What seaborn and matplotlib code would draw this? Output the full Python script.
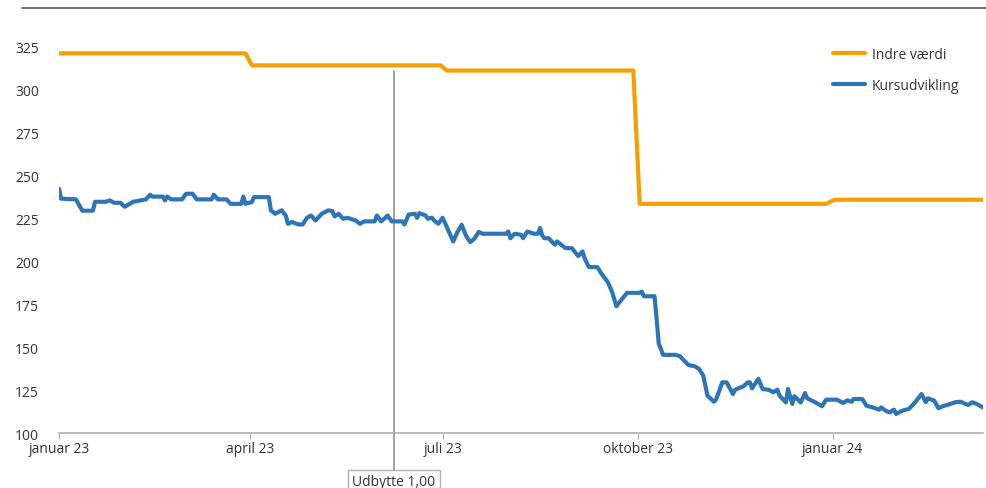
import numpy as np
import pandas as pd
import matplotlib
matplotlib.use("Agg")
import matplotlib.pyplot as plt
import matplotlib.transforms as mtransforms
from matplotlib.lines import Line2D
import seaborn as sns

# ------------------------------------------------------------
# data
# ------------------------------------------------------------
kurs_dates = [
    "2023-01-01", "2023-01-02", "2023-01-09", "2023-01-12", "2023-01-17", "2023-01-18",
    "2023-01-23", "2023-01-25", "2023-01-27", "2023-01-30", "2023-02-01", "2023-02-05",
    "2023-02-11", "2023-02-13", "2023-02-14", "2023-02-19", "2023-02-20", "2023-02-21",
    "2023-02-23", "2023-02-28", "2023-03-02", "2023-03-05", "2023-03-07", "2023-03-14",
    "2023-03-15", "2023-03-17", "2023-03-21", "2023-03-23", "2023-03-28", "2023-03-29",
    "2023-03-30", "2023-04-02", "2023-04-03", "2023-04-10", "2023-04-11", "2023-04-13",
    "2023-04-16", "2023-04-18", "2023-04-19", "2023-04-21", "2023-04-24", "2023-04-26",
    "2023-04-28", "2023-04-30", "2023-05-02", "2023-05-05", "2023-05-08", "2023-05-10",
    "2023-05-11", "2023-05-13", "2023-05-15", "2023-05-17", "2023-05-21", "2023-05-23",
    "2023-05-25", "2023-05-30", "2023-05-31", "2023-06-02", "2023-06-04", "2023-06-05",
    "2023-06-07", "2023-06-12", "2023-06-13", "2023-06-15", "2023-06-18", "2023-06-19",
    "2023-06-20", "2023-06-23", "2023-06-24", "2023-06-26", "2023-06-27", "2023-06-29",
    "2023-07-01", "2023-07-03", "2023-07-06", "2023-07-08", "2023-07-10", "2023-07-12",
    "2023-07-14", "2023-07-16", "2023-07-18", "2023-07-20", "2023-07-31", "2023-08-01",
    "2023-08-02", "2023-08-04", "2023-08-07", "2023-08-08", "2023-08-10", "2023-08-13",
    "2023-08-15", "2023-08-16", "2023-08-17", "2023-08-18", "2023-08-20", "2023-08-23",
    "2023-08-24", "2023-08-28", "2023-08-31", "2023-09-03", "2023-09-05", "2023-09-06",
    "2023-09-08", "2023-09-12", "2023-09-14", "2023-09-17", "2023-09-19", "2023-09-21",
    "2023-09-24", "2023-09-26", "2023-10-02", "2023-10-03", "2023-10-04", "2023-10-09",
    "2023-10-10", "2023-10-11", "2023-10-12", "2023-10-13", "2023-10-19", "2023-10-21",
    "2023-10-23", "2023-10-25", "2023-10-28", "2023-10-30", "2023-11-01", "2023-11-03",
    "2023-11-06", "2023-11-07", "2023-11-10", "2023-11-12", "2023-11-15", "2023-11-16",
    "2023-11-20", "2023-11-22", "2023-11-23", "2023-11-24", "2023-11-27", "2023-11-29",
    "2023-12-02", "2023-12-04", "2023-12-06", "2023-12-07", "2023-12-10", "2023-12-11",
    "2023-12-13", "2023-12-14", "2023-12-17", "2023-12-19", "2023-12-20", "2023-12-24",
    "2023-12-27", "2023-12-29", "2024-01-03", "2024-01-06", "2024-01-08", "2024-01-10",
    "2024-01-11", "2024-01-15", "2024-01-17", "2024-01-20", "2024-01-23", "2024-01-24",
    "2024-01-26", "2024-01-28", "2024-01-30", "2024-01-31", "2024-02-03", "2024-02-06",
    "2024-02-09", "2024-02-12", "2024-02-14", "2024-02-15", "2024-02-18", "2024-02-20",
    "2024-02-22", "2024-02-24", "2024-02-28", "2024-03-01", "2024-03-02", "2024-03-05",
    "2024-03-07", "2024-03-09", "2024-03-12",
]
kurs_values = [
    242.2, 236.4, 236.0, 229.4, 229.4, 234.6,
    234.6, 235.4, 234.0, 234.0, 231.7, 234.6,
    236.0, 238.7, 237.6, 237.6, 235.4, 237.6,
    236.0, 236.0, 239.3, 239.3, 236.0, 236.0,
    238.7, 236.0, 236.0, 233.4, 233.4, 237.6,
    233.4, 234.5, 237.3, 237.3, 229.6, 227.6,
    229.6, 226.6, 221.8, 222.8, 221.4, 221.4,
    225.3, 226.6, 223.7, 227.6, 229.6, 229.2,
    226.1, 227.6, 224.7, 225.3, 223.7, 221.8,
    223.2, 223.2, 226.6, 223.2, 225.3, 226.6,
    223.2, 223.2, 221.4, 227.2, 227.6, 225.3,
    228.0, 226.6, 224.7, 225.3, 223.7, 221.8,
    225.3, 219.9, 211.5, 217.0, 221.2, 215.0,
    211.1, 213.1, 217.0, 216.0, 216.0, 217.3,
    213.4, 216.0, 215.4, 213.4, 217.3, 216.0,
    216.0, 219.3, 215.0, 213.4, 213.4, 209.6,
    211.5, 207.6, 207.6, 203.0, 205.7, 201.8,
    196.6, 196.6, 192.7, 187.8, 182.0, 173.8,
    178.5, 181.6, 181.6, 182.3, 179.6, 179.6,
    166.4, 151.9, 149.0, 145.5, 145.5, 144.7,
    142.1, 139.6, 138.8, 137.3, 133.4, 121.7,
    118.2, 119.4, 129.5, 129.5, 122.7, 125.2,
    127.2, 129.5, 129.5, 126.0, 131.5, 125.6,
    125.1, 123.7, 125.2, 121.7, 117.8, 125.6,
    116.9, 121.4, 117.8, 123.3, 120.2, 117.8,
    115.6, 119.4, 119.4, 117.5, 119.0, 118.2,
    119.8, 119.8, 115.9, 114.9, 113.6, 114.9,
    113.0, 112.0, 113.6, 111.1, 113.0, 114.0,
    117.9, 122.7, 117.9, 120.2, 118.8, 114.4,
    115.6, 116.3, 117.9, 118.2, 117.9, 116.3,
    117.9, 116.9, 114.9,
]

indre_dates = [
    "2023-01-01", "2023-03-30", "2023-04-02", "2023-06-30", "2023-07-03",
    "2023-09-29", "2023-10-02", "2023-12-29", "2024-01-02", "2024-03-12",
]
indre_values = [321.0, 321.0, 314.0, 314.0, 311.0, 311.0, 233.4, 233.4, 235.8, 235.8]

y_ticks = [100, 125, 150, 175, 200, 225, 250, 275, 300, 325]
x_ticks = ["2023-01-01", "2023-04-01", "2023-07-01", "2023-10-01", "2024-01-01"]
x_tick_labels = ["januar 23", "april 23", "juli 23", "oktober 23", "januar 24"]

udbytte_date = "2023-06-08"
udbytte_label = "Udbytte 1,00"

ORANGE = "#F5A000"
BLUE = "#2E75B6"

# ------------------------------------------------------------
sns.set_style("white")
plt.rcParams['font.family'] = ['Open Sans', 'DejaVu Sans']

kurs = pd.DataFrame({"dato": pd.to_datetime(kurs_dates), "kurs": kurs_values})
indre = pd.DataFrame({"dato": pd.to_datetime(indre_dates), "indre": indre_values})

fig = plt.figure(figsize=(9.86, 4.89), dpi=100)
ax = fig.add_axes([59 / 986, 1 - 434 / 489, (983 - 59) / 986, (434 - 20) / 489])

sns.lineplot(data=indre, x="dato", y="indre", color=ORANGE, lw=3, ax=ax, label="Indre værdi")
sns.lineplot(data=kurs, x="dato", y="kurs", color=BLUE, lw=3, ax=ax, label="Kursudvikling")

ax.set_xlim(pd.Timestamp("2023-01-01"), pd.Timestamp("2024-03-12"))
ax.set_ylim(100, 341)
ax.set_yticks(y_ticks)
ax.set_xticks(pd.to_datetime(x_ticks))
ax.set_xticklabels(x_tick_labels)
ax.set_xlabel("")
ax.set_ylabel("")

for s in ["top", "right", "left"]:
    ax.spines[s].set_visible(False)
ax.spines["bottom"].set_color("#b0b0b0")
ax.spines["bottom"].set_linewidth(1.2)
ax.tick_params(axis="x", bottom=True, length=4, color="#b0b0b0", labelsize=10,
               labelcolor="#333333", pad=2)
ax.tick_params(axis="y", left=False, labelsize=10, labelcolor="#333333", pad=11)

# dividend marker
ud = pd.Timestamp(udbytte_date)
trans = mtransforms.blended_transform_factory(ax.transData, ax.transAxes)
ax.plot([ud, ud], [310.5, 100], color="#9a9a9a", lw=1.3, zorder=1)
ax.plot([ud, ud], [0, -0.092], color="#9a9a9a", lw=1.3, transform=trans, clip_on=False)
ax.text(ud, -0.118, udbytte_label, transform=trans, ha="center", va="center",
        fontsize=10, color="#333333",
        bbox=dict(boxstyle="square,pad=0.3", fc="white", ec="#b0b0b0", lw=1))

leg = ax.legend(loc="upper right", bbox_to_anchor=(0.988, 0.962), frameon=False,
                fontsize=10, handlelength=2.3, labelspacing=1.15, handletextpad=0.5)
for t in leg.get_texts():
    t.set_color("#333333")

# thin rule across the top
fig.add_artist(Line2D([22 / 986, 1.0], [1 - 9 / 489, 1 - 9 / 489], color="#555555", lw=1.2))

fig.savefig("out.png", dpi=100)
